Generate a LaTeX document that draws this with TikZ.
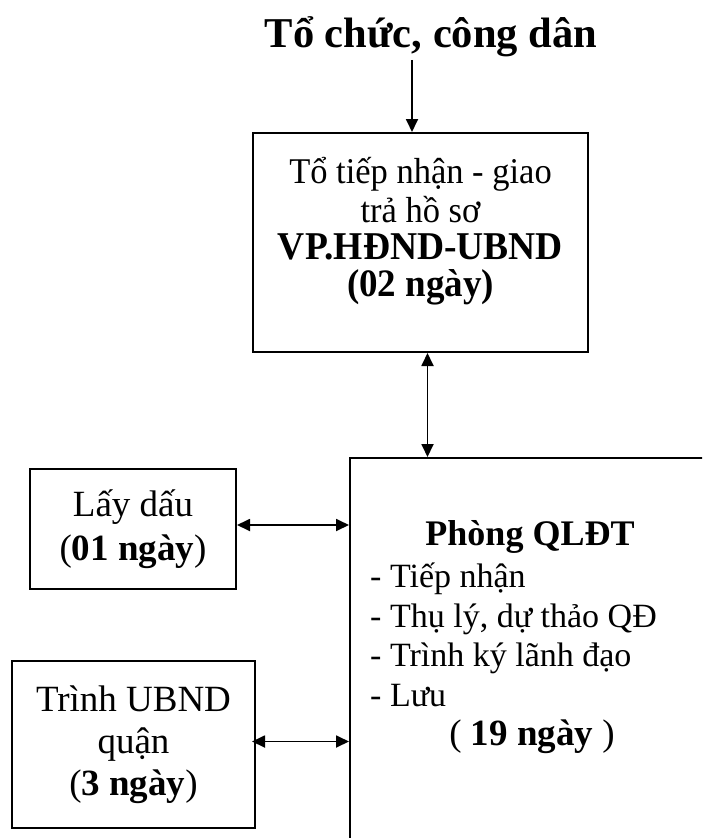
\documentclass[tikz,border=0pt]{standalone}
\usepackage{graphicx}
\usepackage{fontspec}
\setmainfont{Liberation Serif}
\usetikzlibrary{arrows.meta, positioning}

\newcommand{\tall}[1]{\scalebox{1}[1.05]{#1}}
\newcommand{\tightlines}{\lineskiplimit=-60pt\relax}

\tikzset{
  box/.style={draw, line width=2pt, inner sep=0pt, align=center},
  link/.style={line width=1.8pt, -{Triangle[length=13pt,width=12pt]}},
  twoway/.style={line width=1.8pt, {Triangle[length=13pt,width=12pt]}-{Triangle[length=13pt,width=12pt]}},
}

\begin{document}
\begin{tikzpicture}[x=1pt, y=-1pt]
\clip (0,0) rectangle (702,838);

% title
\node[anchor=base, font=\fontsize{42.5}{46}\selectfont\bfseries] (citizen) at (431,47) {Tổ chức, công dân};

% boxes
\node[box, minimum width=335pt, minimum height=219pt] (desk) at (420.5,242.5) {};
\node[align=center, inner sep=0pt, font=\fontsize{34.5}{37}\selectfont\tightlines] (desktext) at (420.5,231)
  {\tall{Tổ tiếp nhận - giao}\\[2pt] \tall{trả hồ sơ}\\
   \tall{\fontsize{37.5}{37}\selectfont\bfseries VP.HĐND-UBND}\\ \tall{\fontsize{37}{37}\selectfont\bfseries (02 ngày)}};
\node[box, minimum width=400pt, minimum height=420pt, anchor=north west] (dept) at (349,457) {};
\node[box, minimum width=206pt, minimum height=120pt, font=\fontsize{37}{44}\selectfont] (stamp) at (133,529)
  {Lấy dấu\\ (\textbf{01 ngày})};
\node[box, minimum width=243pt, minimum height=167pt, font=\fontsize{37}{42}\selectfont] (submit) at (133.5,744.5)
  {Trình UBND\\ quận\\ (\textbf{3 ngày})};

% text of Phong QLDT
\node[anchor=base, font=\fontsize{36}{40}\selectfont\bfseries] (head) at (530,545) {Phòng QLĐT};
\node[anchor=west, inner sep=0pt, align=left, font=\fontsize{34}{39.5}\selectfont] (tasks) at (370,635)
  {- Tiếp nhận\\ - Thụ lý, dự thảo QĐ\\ - Trình ký lãnh đạo\\ - Lưu};
\node[anchor=base, font=\fontsize{37}{40}\selectfont] (total) at (532,745) {( \textbf{19 ngày} )};

% arrows
\draw[link] ([xshift=-19pt]citizen.south) -- ([xshift=-19pt]citizen.south |- desk.north);
\draw[twoway] ([xshift=7pt]desk.south) -- ([xshift=7pt]desk.south |- dept.north);
\draw[twoway] ([yshift=4pt]stamp.east) -- ([yshift=4pt]stamp.east -| dept.west);
\draw[twoway] ([xshift=-4pt,yshift=3pt]submit.east) -- ([yshift=3pt]submit.east -| dept.west);
\end{tikzpicture}
\end{document}
